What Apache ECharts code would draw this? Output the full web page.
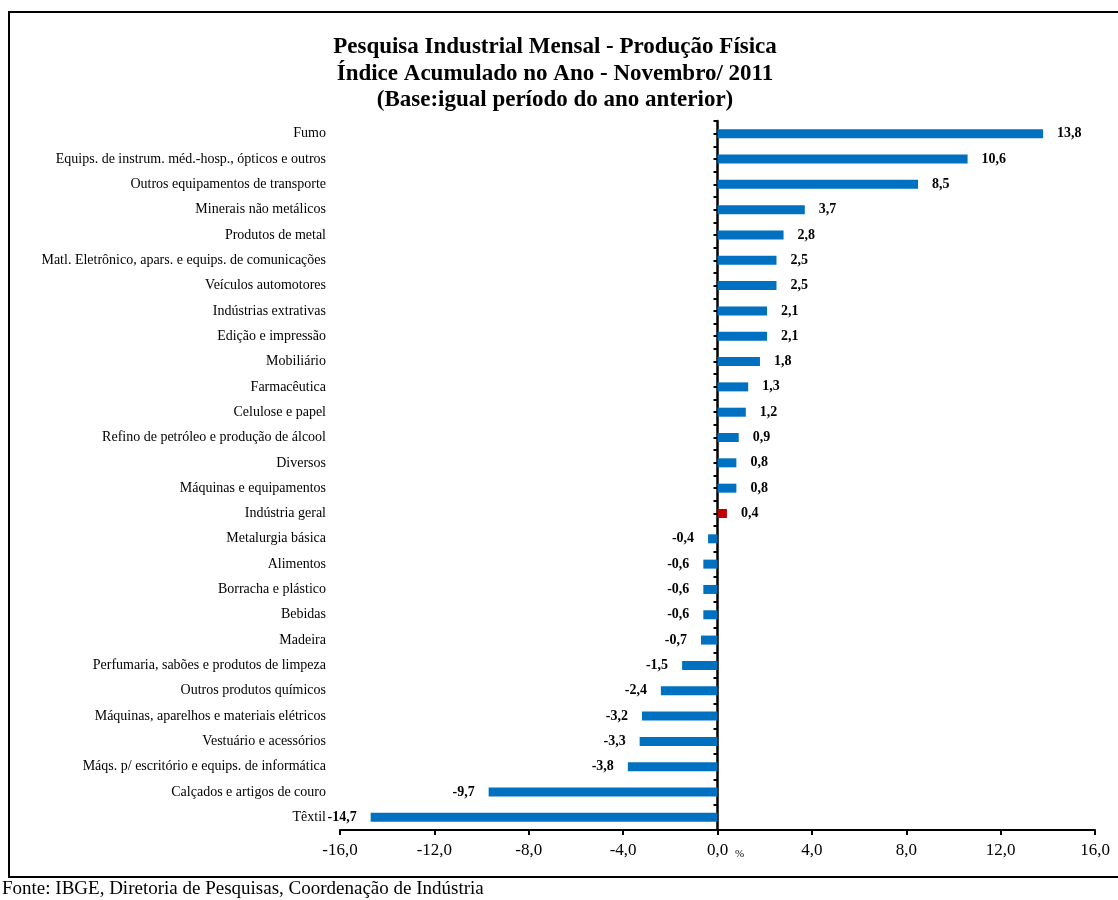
<!DOCTYPE html>
<html>
<head>
<meta charset="utf-8">
<script src="https://cdn.jsdelivr.net/npm/echarts@6/dist/echarts.min.js"></script>
<style>
  html, body { margin: 0; padding: 0; background: #fff; }
  #chart { width: 1118px; height: 900px; }
</style>
</head>
<body>
<div id="chart"></div>
<script>
// setores (de cima para baixo)
var categorias = [
  'Fumo', 'Equips. de instrum. méd.-hosp., ópticos e outros', 'Outros equipamentos de transporte',
  'Minerais não metálicos', 'Produtos de metal', 'Matl. Eletrônico, apars. e equips. de comunicações',
  'Veículos automotores', 'Indústrias extrativas', 'Edição e impressão', 'Mobiliário',
  'Farmacêutica', 'Celulose e papel', 'Refino de petróleo e produção de álcool', 'Diversos',
  'Máquinas e equipamentos', 'Indústria geral', 'Metalurgia básica', 'Alimentos',
  'Borracha e plástico', 'Bebidas', 'Madeira', 'Perfumaria, sabões e produtos de limpeza',
  'Outros produtos químicos', 'Máquinas, aparelhos e materiais elétricos', 'Vestuário e acessórios',
  'Máqs. p/ escritório e equips. de informática', 'Calçados e artigos de couro', 'Têxtil'
];
var valores = [
  13.8, 10.6, 8.5, 3.7, 2.8, 2.5, 2.5, 2.1, 2.1, 1.8, 1.3, 1.2, 0.9, 0.8, 0.8, 0.4,
  -0.4, -0.6, -0.6, -0.6, -0.7, -1.5, -2.4, -3.2, -3.3, -3.8, -9.7, -14.7
];
var destaque = 'Indústria geral';

var serif = '"Liberation Serif", "DejaVu Serif", serif';
var fmt = function (v) { return Number(v).toFixed(1).replace('.', ','); };

var dados = valores.map(function (v, i) {
  return {
    value: v,
    itemStyle: { color: categorias[i] === destaque ? '#C00000' : '#0070C0' },
    label: { position: v >= 0 ? 'right' : 'left' }
  };
});

var chart = echarts.init(document.getElementById('chart'));
chart.setOption({
  animation: false,
  title: {
    text: 'Pesquisa Industrial Mensal - Produção Física\nÍndice Acumulado no Ano - Novembro/ 2011\n(Base:igual período do ano anterior)',
    left: 550,
    top: 29,
    textAlign: 'center',
    textStyle: { fontFamily: serif, fontSize: 23, fontWeight: 'bold', color: '#000', lineHeight: 26.5 }
  },
  grid: { left: 340, right: 23, top: 121, bottom: 70, containLabel: false },
  xAxis: {
    type: 'value',
    min: -16, max: 16, interval: 4,
    axisLine: { show: true, lineStyle: { color: '#000', width: 2 } },
    axisTick: { show: true, length: 5, lineStyle: { color: '#000', width: 2 } },
    splitLine: { show: false },
    axisLabel: { formatter: fmt, fontFamily: serif, fontSize: 17, color: '#000', margin: 12 }
  },
  yAxis: [
    {
      type: 'category', data: categorias, inverse: true,
      axisLine: { show: false, onZero: false },
      axisTick: { show: false },
      axisLabel: { fontFamily: serif, fontSize: 14, color: '#000', margin: 14 }
    },
    {
      type: 'category', data: categorias, inverse: true, position: 'left',
      axisLine: { show: true, onZero: true, onZeroAxisIndex: 0, lineStyle: { color: '#000', width: 2.5 } },
      axisTick: { show: true, length: 4, lineStyle: { color: '#000', width: 2 } },
      axisLabel: { show: false }
    },
    {
      type: 'category', data: categorias, inverse: true, position: 'left',
      axisLine: { show: false, onZero: true, onZeroAxisIndex: 0 },
      axisTick: { show: true, alignWithLabel: true, length: 4, lineStyle: { color: '#000', width: 2 } },
      axisLabel: { show: false }
    }
  ],
  series: [{
    type: 'bar',
    yAxisIndex: 0,
    barWidth: 9,
    data: dados,
    label: {
      show: true,
      distance: 14,
      formatter: function (p) { return fmt(p.value); },
      fontFamily: serif, fontSize: 14, fontWeight: 'bold', color: '#000'
    }
  }],
  graphic: [
    {
      type: 'rect',
      shape: { x: 9, y: 12, width: 1120, height: 865 },
      style: { fill: null, stroke: '#000', lineWidth: 2 },
      z: -1
    },
    {
      type: 'text',
      left: 735, top: 849,
      style: { text: '%', font: '11px ' + serif, fill: '#000' }
    },
    {
      type: 'text',
      left: 2, top: 880,
      style: { text: 'Fonte: IBGE, Diretoria de Pesquisas, Coordenação de Indústria', font: '19px ' + serif, fill: '#000' }
    }
  ]
});
</script>
</body>
</html>
